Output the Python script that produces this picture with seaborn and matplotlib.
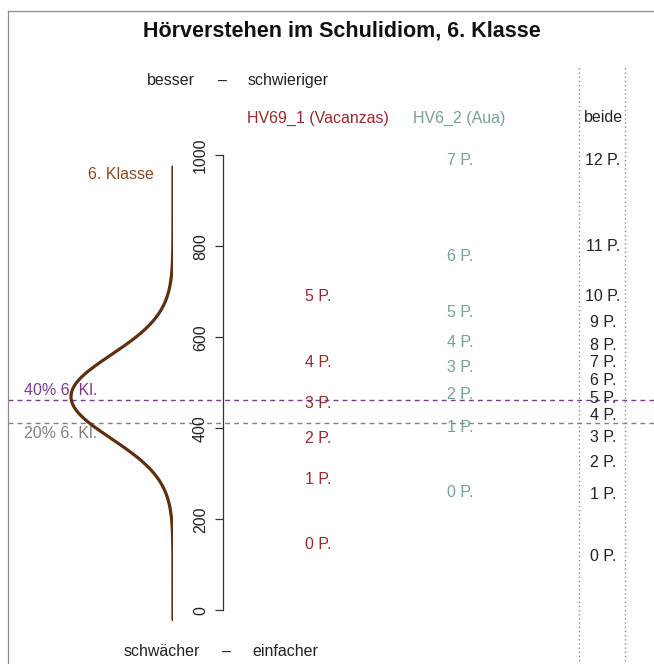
import numpy as np
import pandas as pd
import matplotlib

matplotlib.use("Agg")
import matplotlib.pyplot as plt
import seaborn as sns

sns.set_theme(style="white")
plt.rcParams["font.family"] = ["Liberation Sans", "DejaVu Sans"]

TITLE = "Hörverstehen im Schulidiom, 6. Klasse"

# points per task -> position on the scale
hv69_points = ["0 P.", "1 P.", "2 P.", "3 P.", "4 P.", "5 P."]
hv69_values = [144, 287, 377, 456, 544, 691]

hv6_points = ["0 P.", "1 P.", "2 P.", "3 P.", "4 P.", "5 P.", "6 P.", "7 P."]
hv6_values = [260, 403, 474, 533, 588, 656, 779, 990]

both_points = ["0 P.", "1 P.", "2 P.", "3 P.", "4 P.", "5 P.", "6 P.",
               "7 P.", "8 P.", "9 P.", "10 P.", "11 P.", "12 P."]
both_values = [118, 254, 325, 380, 429, 466, 506, 544, 583, 632, 691, 801, 990]

# ability distribution of the 6th grade
class_mean = 470
class_sd = 92
curve_from, curve_to = -20, 975

cut_labels = ["40% 6. Kl.", "20% 6. Kl."]
cut_values = [463, 411]

scale_ticks = [0, 200, 400, 600, 800, 1000]

RED = "#98292d"
TEAL = "#789e9f"
BROWN = "#8a4a22"
CURVE = "#5e2f10"
PURPLE = "#7b3a8c"
GREY = "#808080"
INK = "#222222"

# layout in pixels (figure is 654 x 664 at dpi 100)
W, H = 654, 664
Y0, PX = 610.5, 0.455  # pixel row of scale value 0, pixels per scale unit
TOP, BOTTOM = 11, 730


def val(py):
    return (Y0 - py) / PX


def axes_at(fig, left, right):
    return fig.add_axes([left / W, 1 - BOTTOM / H, (right - left) / W, (BOTTOM - TOP) / H])


fig = plt.figure(figsize=(W / 100, H / 100), dpi=100)
ylim = (val(BOTTOM), val(TOP))

# frame + all labels
ax = axes_at(fig, 8, 662)
ax.set_xlim(8, 662)
ax.set_ylim(ylim)
ax.set_xticks([])
ax.set_yticks([])
for side in ("right", "bottom"):
    ax.spines[side].set_visible(False)
for side in ("top", "left"):
    ax.spines[side].set_color("#8c8c8c")
    ax.spines[side].set_linewidth(0.9)

fig.text(342 / W, 1 - 31 / H, TITLE, ha="center", va="center",
         fontsize=15.5, fontweight="bold", color="#111111")

txt = dict(fontsize=11.5, va="center")
ax.text(195, val(81), "besser", ha="right", color=INK, **txt)
ax.text(222, val(81), "–", ha="center", color=INK, **txt)
ax.text(248, val(81), "schwieriger", ha="left", color=INK, **txt)
ax.text(200, val(652), "schwächer", ha="right", color=INK, **txt)
ax.text(227, val(652), "–", ha="center", color=INK, **txt)
ax.text(252, val(652), "einfacher", ha="left", color=INK, **txt)

ax.text(318, val(118), "HV69_1 (Vacanzas)", ha="center", color=RED, **txt)
ax.text(459, val(118), "HV6_2 (Aua)", ha="center", color=TEAL, **txt)
ax.text(603, val(118), "beide", ha="center", color=INK, **txt)

for lab, v in zip(hv69_points, hv69_values):
    ax.text(318, v, lab, ha="center", color=RED, **txt)
for lab, v in zip(hv6_points, hv6_values):
    ax.text(460, v, lab, ha="center", color=TEAL, **txt)
for lab, v in zip(both_points, both_values):
    ax.text(603, v, lab, ha="center", color=INK, **txt)

# "beide" column borders
ax.vlines([579, 625], val(BOTTOM), val(65), colors="#8a8a8a",
          linestyles=(0, (1, 2)), linewidth=1)

# cut scores of the class
for lab, v, col, dy in zip(cut_labels, cut_values, [PURPLE, GREY], [7, -7]):
    ax.axhline(v, color=col, linewidth=1, linestyle=(0, (3.5, 3)))
    ax.annotate(lab, xy=(24, v), xytext=(0, dy), textcoords="offset points",
                ha="left", va="center", fontsize=11.5, color=col)

ax.text(154, val(175), "6. Klasse", ha="right", color=BROWN, **txt)

# density curve, drawn leftwards from its baseline
grid = np.linspace(curve_from, curve_to, 400)
dens = np.exp(-0.5 * ((grid - class_mean) / class_sd) ** 2) / (class_sd * np.sqrt(2 * np.pi))
curve_df = pd.DataFrame({"value": grid, "density": dens})

ax_c = axes_at(fig, 8, 173)
sns.lineplot(data=curve_df, x="density", y="value", orient="y",
             color=CURVE, linewidth=2.3, ax=ax_c)
ax_c.set_xlim(dens.max() * 165 / 102, 0)
ax_c.set_ylim(ylim)
ax_c.axis("off")

# scale axis
ax_s = axes_at(fig, 223, 224)
ax_s.set_ylim(ylim)
ax_s.patch.set_visible(False)
for side in ("right", "top", "bottom"):
    ax_s.spines[side].set_visible(False)
ax_s.spines["left"].set_bounds(0, 1000)
ax_s.spines["left"].set_color("#333333")
ax_s.spines["left"].set_linewidth(0.9)
ax_s.set_xticks([])
ax_s.set_yticks(scale_ticks)
ax_s.set_yticklabels([str(t) for t in scale_ticks])
ax_s.tick_params(axis="y", direction="out", length=5.8, width=0.9, color="#333333",
                 pad=5, labelsize=11.5, labelcolor=INK, labelrotation=90, left=True)
for lab in ax_s.get_yticklabels():
    lab.set_va("center")

fig.savefig("out.png", dpi=100)
